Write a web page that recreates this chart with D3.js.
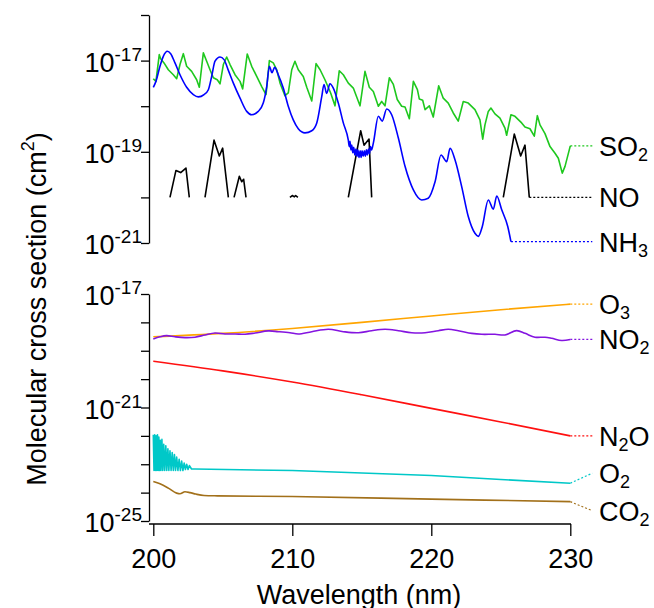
<!DOCTYPE html>
<html><head><meta charset="utf-8">
<script src="https://cdn.jsdelivr.net/npm/d3@7"></script>
<style>body{margin:0;background:#fff}svg{display:block;font-family:"Liberation Sans",Arial,sans-serif}</style>
</head><body><svg id="c" width="654" height="608"></svg>
<script>
// ---------------- data (wavelength nm, cross section cm^2) ----------------
const xTicks = [200, 210, 220, 230];
const topTickVals = [1e-16, 1e-17, 1e-18, 1e-19, 1e-20, 1e-21];
const topTickLabels = [-17, -19, -21];
const botTickVals = [1e-17, 1e-18, 1e-19, 1e-20, 1e-21, 1e-22, 1e-23, 1e-24, 1e-25];
const botTickLabels = [-17, -21, -25];

const so2 = [[200.0,4.0e-18],[200.19,3.5e-18],[200.43,1.35e-17],[200.53,1.1e-17],[200.77,8.9e-18],[201.08,6.3e-18],[201.44,4.9e-18],[201.68,4.0e-18],[201.92,8.2e-18],[202.16,1.42e-17],[202.40,7.5e-18],[202.76,5.8e-18],[203.12,3.8e-18],[203.31,2.6e-18],[203.60,1.48e-17],[203.84,9.7e-18],[204.08,6.3e-18],[204.32,4.2e-18],[204.60,3.8e-18],[204.80,3.1e-18],[205.04,8.2e-18],[205.28,1.2e-17],[205.52,8.2e-18],[205.88,4.9e-18],[206.24,3.5e-18],[206.43,2.4e-18],[206.76,1.4e-17],[207.08,7.5e-18],[207.44,4.5e-18],[207.80,2.7e-18],[208.11,1.8e-18],[208.35,1.0e-17],[208.63,8.9e-18],[208.88,6.3e-18],[209.12,3.2e-18],[209.47,1.7e-18],[209.71,1.95e-18],[209.96,6.3e-18],[210.19,9.7e-18],[210.43,6.3e-18],[210.79,4.5e-18],[211.04,2.6e-18],[211.40,1.3e-18],[211.71,8.6e-18],[212.0,6.3e-18],[212.35,3.8e-18],[212.76,1.95e-18],[213.07,1.02e-18],[213.38,6.0e-18],[213.67,4.9e-18],[214.03,3.2e-18],[214.39,2.5e-18],[214.87,1.02e-18],[215.23,5.8e-18],[215.54,2.6e-18],[215.83,2.1e-18],[216.19,1.0e-18],[216.43,1.27e-18],[216.67,1.02e-18],[216.98,4.2e-18],[217.27,3.0e-18],[217.55,1.4e-18],[217.87,1.0e-18],[218.11,9.6e-19],[218.42,5.3e-19],[218.71,3.5e-18],[219.0,2.3e-18],[219.14,1.43e-18],[219.38,1.35e-18],[219.55,8.4e-19],[219.86,1.02e-18],[220.14,5.8e-19],[220.53,2.8e-18],[220.86,1.5e-18],[221.22,1.17e-18],[221.58,7.1e-19],[221.94,4.7e-19],[222.30,1.27e-18],[222.66,1.17e-18],[223.14,8.4e-19],[223.50,5.0e-19],[223.70,1.9e-19],[223.86,3.9e-19],[224.10,7.7e-19],[224.29,9.1e-19],[224.58,6.8e-19],[224.94,5.5e-19],[225.30,3.3e-19],[225.42,2.3e-19],[225.73,6.5e-19],[226.02,6.0e-19],[226.50,4.3e-19],[226.74,3.5e-19],[227.10,3.2e-19],[227.41,2.2e-19],[227.63,6.2e-19],[227.82,3.9e-19],[228.18,2.5e-19],[228.54,1.3e-19],[228.90,9.3e-20],[229.14,7.2e-20],[229.42,3.4e-20],[229.62,4.8e-20],[230.0,1.35e-19]];

const nh3 = [[200.0,2.6e-18],[200.19,3.5e-18],[200.48,7.5e-18],[200.72,1.24e-17],[201.01,1.6e-17],[201.25,1.42e-17],[201.56,8.9e-18],[201.92,4.9e-18],[202.40,2.6e-18],[202.88,1.8e-18],[203.24,1.6e-18],[203.65,1.8e-18],[203.96,2.3e-18],[204.20,4.5e-18],[204.44,9.7e-18],[204.80,1.2e-17],[205.09,1.05e-17],[205.40,6.1e-18],[205.76,3.2e-18],[206.24,1.5e-18],[206.72,7.7e-19],[207.08,6.5e-19],[207.55,7.7e-19],[207.91,1.17e-18],[208.16,2.7e-18],[208.35,7.5e-18],[208.54,5.4e-18],[208.73,7.1e-18],[208.99,4.9e-18],[209.35,2.5e-18],[209.71,1.0e-18],[210.07,5.0e-19],[210.43,3.2e-19],[210.91,2.6e-19],[211.40,2.9e-19],[211.76,4.3e-19],[212.12,1.64e-18],[212.28,3.0e-18],[212.47,1.9e-18],[212.71,3.1e-18],[212.95,2.5e-18],[213.31,1.17e-18],[213.67,4.3e-19],[214.03,1.8e-19],[214.10,1.3e-19],[214.15,1.7e-19],[214.22,1.1e-19],[214.28,1.4e-19],[214.35,9.5e-20],[214.42,1.25e-19],[214.50,8.5e-20],[214.58,1.15e-19],[214.65,8.0e-20],[214.72,1.1e-19],[214.80,7.5e-20],[214.88,1.05e-19],[214.95,7.5e-20],[215.02,1.05e-19],[215.10,8.0e-20],[215.18,1.05e-19],[215.25,8.0e-20],[215.33,1.1e-19],[215.40,8.5e-20],[215.48,1.15e-19],[215.55,9.0e-20],[215.62,1.3e-19],[215.70,1.1e-19],[215.83,1.55e-19],[216.19,6.0e-19],[216.47,4.7e-19],[216.79,8.7e-19],[217.15,6.5e-19],[217.63,2.0e-19],[218.11,4.8e-20],[218.71,1.46e-20],[219.31,8.8e-21],[219.78,9.6e-21],[220.27,2.2e-20],[220.70,8.5e-20],[221.11,6.1e-20],[221.35,1.2e-19],[221.71,6.6e-20],[222.19,1.7e-20],[222.66,3.8e-21],[223.14,1.63e-21],[223.38,1.4e-21],[223.67,2.3e-21],[224.10,8.8e-21],[224.46,5.5e-21],[224.71,1.07e-20],[225.06,5.4e-21],[225.50,2.3e-21],[225.73,1.07e-21]];

// NO: null entries separate the visible band segments
const no = [[201.20,1e-20],[201.63,3.9e-20],[201.97,3.5e-20],[202.35,4.4e-20],[202.59,1e-20],[202.9,null],
  [203.72,1e-20],[204.37,1.8e-19],[204.75,8.1e-20],[204.99,1.2e-19],[205.40,1e-20],[205.6,null],
  [205.81,1e-20],[206.19,2.9e-20],[206.36,2.2e-20],[206.50,2.5e-20],[206.67,1e-20],[207.0,null],
  [209.83,1e-20],[210.0,1.1e-20],[210.15,1.03e-20],[210.24,1.1e-20],[210.4,1e-20],[210.6,null],
  [214.03,1e-20],[214.92,2.9e-19],[215.16,1.4e-19],[215.52,1.9e-19],[215.71,1e-20],[216.0,null],
  [225.18,1e-20],[225.97,2.45e-19],[226.43,8.1e-20],[226.74,1.4e-19],[227.05,1e-20]];

const o3 = [[200,3.1e-19],[205,4.1e-19],[210,6.1e-19],[215,1.0e-18],[220,1.68e-18],[225,2.8e-18],[230,4.4e-18]];

const no2 = [[200.0,2.6e-19],[200.48,3.1e-19],[200.96,3.4e-19],[201.56,3.1e-19],[202.28,2.9e-19],[203.0,3.0e-19],[203.72,3.6e-19],[204.44,4.2e-19],[205.16,3.9e-19],[205.88,3.9e-19],[206.60,3.8e-19],[207.32,4.2e-19],[208.27,5.0e-19],[208.99,4.7e-19],[209.83,4.3e-19],[210.43,3.9e-19],[211.40,4.7e-19],[212.59,5.7e-19],[213.67,4.7e-19],[214.75,4.3e-19],[215.71,5.1e-19],[216.67,5.7e-19],[217.63,5.1e-19],[218.59,4.3e-19],[219.55,4.3e-19],[220.50,5.1e-19],[221.22,5.7e-19],[221.94,5.1e-19],[222.91,4.1e-19],[223.63,3.8e-19],[224.58,3.8e-19],[225.30,3.6e-19],[226.14,5.1e-19],[226.74,4.1e-19],[227.46,3.0e-19],[228.18,3.0e-19],[228.66,2.75e-19],[229.38,2.3e-19],[230.0,2.5e-19]];

const n2o = [[200,4.3e-20],[205,1.95e-20],[210,7.9e-21],[215,2.8e-21],[220,9.3e-22],[225,3.1e-22],[230,1.0e-22]];

const o2 = [[200.00,1.1e-22],[200.05,6e-24],[200.10,1.1e-22],[200.15,6e-24],[200.20,1.0e-22],[200.25,6e-24],[200.30,1.1e-22],[200.35,6e-24],[200.40,9e-23],[200.45,6e-24],[200.50,7e-23],[200.55,6e-24],[200.62,7.5e-23],[200.68,6e-24],[200.75,5e-23],[200.82,6e-24],[200.90,4.5e-23],[200.97,6e-24],[201.05,3.5e-23],[201.12,6e-24],[201.20,3e-23],[201.28,6e-24],[201.36,2.6e-23],[201.44,6e-24],[201.52,2.2e-23],[201.60,6e-24],[201.68,1.8e-23],[201.77,6e-24],[201.86,1.5e-23],[201.95,6e-24],[202.04,1.3e-23],[202.13,6e-24],[202.22,1.1e-23],[202.31,6.5e-24],[202.40,1.0e-23],[202.50,6.5e-24],[202.60,9e-24],[202.75,6.8e-24],[203,6.8e-24],[210,6.0e-24],[215,4.9e-24],[220,4.0e-24],[225,2.9e-24],[230,2.15e-24]];

const co2 = [[200,2.45e-24],[200.48,2.04e-24],[201.08,1.44e-24],[201.68,9.6e-25],[201.92,9.1e-25],[202.28,1.07e-24],[202.64,1.0e-24],[203.05,8.9e-25],[203.65,7.9e-25],[204.61,7.7e-25],[210,7.3e-25],[220,5.9e-25],[230,4.8e-25]];

// ---------------- drawing ----------------
const svg = d3.select("#c");
const x = d3.scaleLinear().domain([200, 230]).range([153.3, 570.3]);
const yTop = d3.scaleLog().domain([1e-21, 1e-16]).range([243, 15]);
const yBot = d3.scaleLog().domain([1e-25, 1e-17]).range([521, 294]);
const axisX = 149;

function yAxis(scale, vals, labels) {
  const g = svg.append("g").attr("transform", `translate(${axisX},0)`)
    .call(d3.axisLeft(scale).tickValues(vals).tickSize(8).tickSizeOuter(0).tickFormat(""));
  g.select(".domain").attr("stroke", "#000").attr("stroke-width", 1.3);
  g.selectAll(".tick line").attr("stroke", "#000").attr("stroke-width", 1.3);
  labels.forEach(e => {
    const yy = scale(Math.pow(10, e));
    const t = svg.append("text").attr("x", 142).attr("y", yy + 11).attr("text-anchor", "end")
      .attr("font-size", 27).attr("fill", "#000");
    t.append("tspan").text("10");
    t.append("tspan").attr("dy", -11).attr("font-size", 19).text(String(e));
  });
}
yAxis(yTop, topTickVals, topTickLabels);
yAxis(yBot, botTickVals, botTickLabels);

// x axis
const gx = svg.append("g").attr("transform", "translate(0,524)")
  .call(d3.axisBottom(x).tickValues(xTicks).tickSize(12).tickSizeOuter(0).tickFormat(d3.format("d")));
gx.select(".domain").remove();
gx.append("line").attr("x1", axisX).attr("x2", 571).attr("y1", 0).attr("y2", 0).attr("stroke", "#000").attr("stroke-width", 1.3);
gx.selectAll(".tick line").attr("stroke", "#000").attr("stroke-width", 1.3);
gx.selectAll(".tick text").attr("y", 44).attr("dy", 0).attr("font-size", 27).attr("fill", "#000")
  .attr("font-family", "Liberation Sans, Arial, sans-serif");

// axis titles
svg.append("text").attr("x", 359).attr("y", 604).attr("text-anchor", "middle").attr("font-size", 27).text("Wavelength (nm)");
const yt = svg.append("text").attr("transform", "translate(46,309) rotate(-90)").attr("text-anchor", "middle").attr("font-size", 27);
yt.append("tspan").text("Molecular cross section (cm");
yt.append("tspan").attr("dy", -12).attr("font-size", 18).text("2");
yt.append("tspan").attr("dy", 12).text(")");

// series
const series = [
  {d: so2, y: yTop, c: "#1ec81e", curve: d3.curveLinear, label: [["SO",0],["2",1]], off: 0},
  {d: no,  y: yTop, c: "#000000", curve: d3.curveLinear, label: [["NO",0]], off: 0},
  {d: nh3, y: yTop, c: "#0000ff", curve: d3.curveMonotoneX, label: [["NH",0],["3",1]], off: 0},
  {d: o3,  y: yBot, c: "#ffa500", curve: d3.curveMonotoneX, label: [["O",0],["3",1]], off: 0},
  {d: no2, y: yBot, c: "#8414e0", curve: d3.curveCatmullRom, label: [["NO",0],["2",1]], off: 0},
  {d: n2o, y: yBot, c: "#ff1010", curve: d3.curveMonotoneX, label: [["N",0],["2",1],["O",0]], off: 0},
  {d: o2,  y: yBot, c: "#00c8c8", curve: d3.curveLinear, label: [["O",0],["2",1]], off: -10},
  {d: co2, y: yBot, c: "#a2701a", curve: d3.curveMonotoneX, label: [["CO",0],["2",1]], off: 9}
];

series.forEach(s => {
  const line = d3.line().defined(p => p[1] != null).x(p => x(p[0])).y(p => s.y(p[1])).curve(s.curve);
  svg.append("path").attr("d", line(s.d)).attr("fill", "none").attr("stroke", s.c)
    .attr("stroke-width", 1.6).attr("stroke-linejoin", "round");
  const last = s.d[s.d.length - 1];
  const x0 = x(last[0]), y0 = s.y(last[1]);
  const x1 = x(230) + 22, y1 = y0 + s.off;
  svg.append("line").attr("x1", x0).attr("y1", y0).attr("x2", x1).attr("y2", y1)
    .attr("stroke", s.c).attr("stroke-width", 1.2).attr("stroke-dasharray", "2,2");
  const t = svg.append("text").attr("x", 599).attr("y", y1 + 10).attr("font-size", 27).attr("fill", "#000");
  s.label.forEach(([txt, sub], i) => {
    const prevSub = i > 0 && s.label[i - 1][1];
    const ts = t.append("tspan").text(txt);
    if (sub) ts.attr("font-size", 18).attr("dy", 5);
    else if (prevSub) ts.attr("dy", -5);
  });
});
</script></body></html>
